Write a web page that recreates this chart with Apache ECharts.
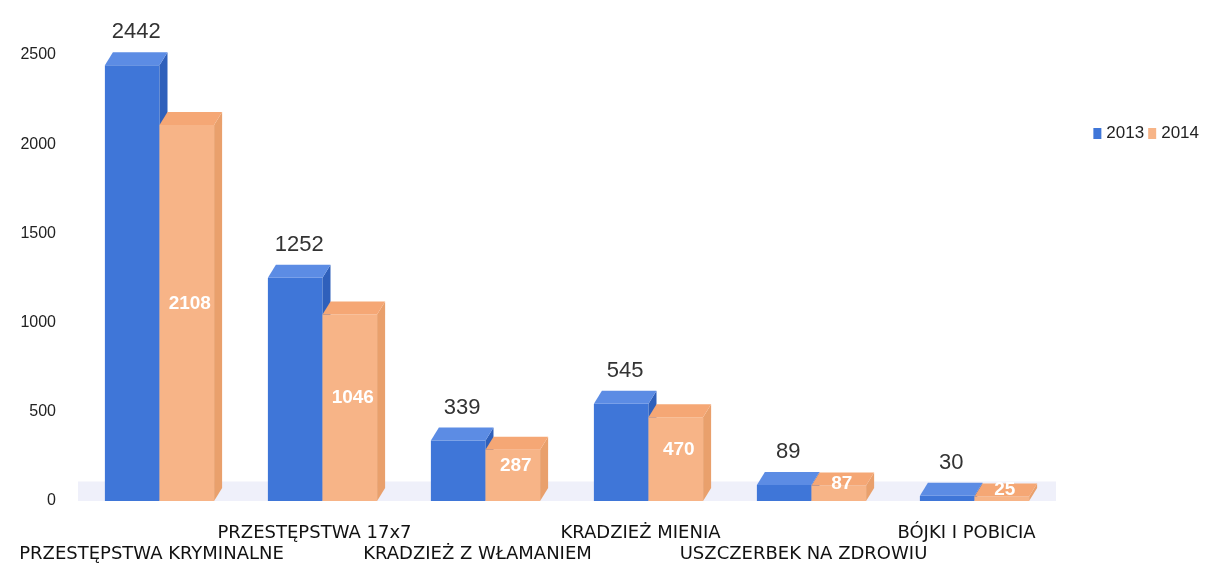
<!DOCTYPE html>
<html>
<head>
<meta charset="utf-8">
<script src="https://cdn.jsdelivr.net/npm/echarts@6/dist/echarts.min.js"></script>
<style>
  html, body { margin: 0; padding: 0; background: #fff; }
  #chart { width: 1206px; height: 569px; }
</style>
</head>
<body>
<div id="chart"></div>
<script>
// categories and values
var categories = ['PRZESTĘPSTWA KRYMINALNE', 'PRZESTĘPSTWA 17x7', 'KRADZIEŻ Z WŁAMANIEM',
  'KRADZIEŻ MIENIA', 'USZCZERBEK NA ZDROWIU', 'BÓJKI I POBICIA'];
var values2013 = [2442, 1252, 339, 545, 89, 30];
var values2014 = [2108, 1046, 287, 470, 87, 25];
var yTicks = [0, 500, 1000, 1500, 2000, 2500];

// colours of the faces: front, top, side
var faces = [
  { front: '#3f76d8', top: '#5c8ce4', side: '#2f60bb' },
  { front: '#f7b487', top: '#f5a775', side: '#e9a06c' }
];

var DX = 8, DY = 13; // depth of the fake 3d

function makeRender(seriesIdx) {
  return function (params, api) {
    var i = api.value(0);
    var v = api.value(1);
    var top = api.coord([i, v]);
    var base = api.coord([i, 0]);
    var bw = api.size([1, 0])[0] * 0.335;
    var x0 = top[0] + (seriesIdx === 0 ? -bw : 0);
    var yt = top[1], yb = base[1];
    var f = faces[seriesIdx];
    var children = [
      { type: 'rect', shape: { x: x0, y: yt, width: bw, height: yb - yt }, style: { fill: f.front } },
      { type: 'polygon', shape: { points: [[x0 + bw, yt], [x0 + bw + DX, yt - DY], [x0 + bw + DX, yb - DY], [x0 + bw, yb]] }, style: { fill: f.side } },
      { type: 'polygon', shape: { points: [[x0, yt], [x0 + DX, yt - DY], [x0 + bw + DX, yt - DY], [x0 + bw, yt]] }, style: { fill: f.top } }
    ];
    if (seriesIdx === 0) {
      children.push({
        type: 'text',
        style: {
          text: String(v), x: x0 + bw / 2 + DX / 2, y: yt - DY - 9,
          textAlign: 'center', textVerticalAlign: 'bottom',
          fill: '#333', fontSize: 22, fontFamily: 'Liberation Sans, Arial, sans-serif'
        }
      });
    } else {
      children.push({
        type: 'text',
        style: {
          text: String(v), x: x0 + bw / 2 + 3, y: Math.min((yt - DY + yb) / 2 - 3, yb - 9),
          textAlign: 'center', textVerticalAlign: 'middle',
          fill: '#fff', fontSize: 19, fontWeight: 'bold', fontFamily: 'Liberation Sans, Arial, sans-serif'
        }
      });
    }
    return { type: 'group', children: children };
  };
}

var chart = echarts.init(document.getElementById('chart'));
chart.setOption({
  backgroundColor: '#fff',
  animation: false,
  grid: { left: 78, right: 150, top: 55, bottom: 68 },
  legend: {
    data: ['2013', '2014'],
    right: 2,
    top: 120,
    icon: 'rect',
    itemWidth: 8,
    itemHeight: 11,
    itemGap: 4,
    textStyle: { fontSize: 17, color: '#222', fontFamily: 'Liberation Sans, Arial, sans-serif' }
  },
  xAxis: {
    type: 'category',
    data: categories,
    axisLine: { show: false },
    axisTick: { show: false },
    axisLabel: {
      interval: 0,
      margin: 22,
      lineHeight: 21,
      fontSize: 18,
      color: '#111',
      padding: [0, 16, 0, 0],
      fontFamily: 'DejaVu Sans, sans-serif',
      formatter: function (v, idx) {
        return idx % 2 === 0 ? '\n' + v : v;
      }
    }
  },
  yAxis: {
    type: 'value',
    min: yTicks[0],
    max: yTicks[yTicks.length - 1],
    interval: 500,
    axisLine: { show: false },
    axisTick: { show: false },
    splitLine: { show: false },
    axisLabel: {
      fontSize: 16, color: '#222', margin: 22,
      fontFamily: 'Liberation Sans, Arial, sans-serif',
      formatter: function (v) { return String(v); }
    }
  },
  series: [
    {
      name: '2013',
      type: 'custom',
      renderItem: makeRender(0),
      itemStyle: { color: faces[0].front },
      encode: { x: 0, y: 1 },
      data: values2013.map(function (v, i) { return [i, v]; }),
      markArea: {
        silent: true,
        itemStyle: { color: 'rgba(228,230,246,0.6)' },
        data: [[{ yAxis: 0 }, { yAxis: 110 }]]
      }
    },
    {
      name: '2014',
      type: 'custom',
      renderItem: makeRender(1),
      itemStyle: { color: faces[1].front },
      encode: { x: 0, y: 1 },
      data: values2014.map(function (v, i) { return [i, v]; })
    }
  ]
});
</script>
</body>
</html>
